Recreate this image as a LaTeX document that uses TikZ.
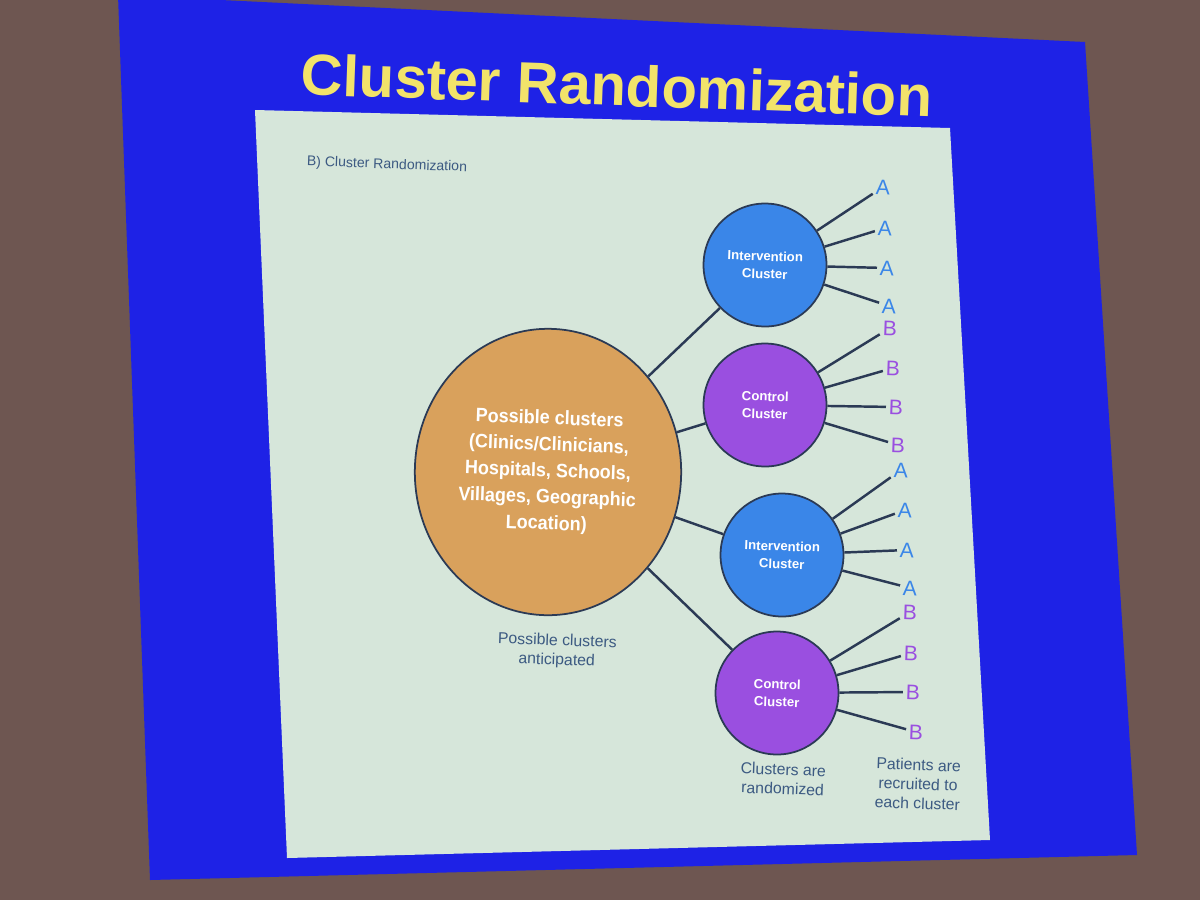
\documentclass[tikz,border=0pt]{standalone}
\usepackage{fontspec}
\setmainfont{Liberation Sans}
\usetikzlibrary{positioning}
\definecolor{RoomBrown}{HTML}{6E5651}
\definecolor{SlideBlue}{HTML}{1E22E6}
\definecolor{PanelGray}{HTML}{D6E6DA}
\definecolor{TitleYellow}{HTML}{F2E36A}
\definecolor{ClusterOrange}{HTML}{D9A15C}
\definecolor{InterBlue}{HTML}{3A86E8}
\definecolor{CtrlPurple}{HTML}{9A4FE0}
\definecolor{CaptionBlue}{HTML}{3C5A82}
\definecolor{LinkDark}{HTML}{2B3A55}

\tikzset{
  cluster/.style={circle, draw=LinkDark, line width=1pt, text=white, font=\bfseries\fontsize{7.5}{10}\selectfont, align=center, inner sep=0pt, minimum size=70pt, rotate=-2},
  inter/.style={cluster, fill=InterBlue},
  ctrl/.style={cluster, fill=CtrlPurple},
  patA/.style={font=\large, text=InterBlue, inner sep=1.5pt, rotate=-2},
  patB/.style={font=\large, text=CtrlPurple, inner sep=1.5pt, rotate=-2},
  link/.style={draw=LinkDark, line width=1.4pt},
  caption/.style={font=\small, text=CaptionBlue, align=center, rotate=-2}
}

\begin{document}
\begin{tikzpicture}[x=0.02cm, y=-0.02cm]
  \useasboundingbox (0,0) rectangle (1200,900);
  % room and slide
  \fill[RoomBrown] (0,0) rectangle (1200,900);
  \fill[SlideBlue] (118,-5) -- (1085,42) -- (1137,855) -- (150,880) -- cycle;
  \fill[PanelGray] (255,110) -- (950,128) -- (990,840) -- (287,858) -- cycle;

  % titles
  \node[font=\bfseries\fontsize{33}{36}\selectfont, text=TitleYellow, rotate=-2] (title) at (617,85) {Cluster Randomization};
  \node[font=\footnotesize, text=CaptionBlue, rotate=-2] (subtitle) at (387,165) {B) Cluster Randomization};

  % possible clusters
  \node[circle, draw=LinkDark, line width=1pt, fill=ClusterOrange, text=white, font=\bfseries\fontsize{11}{15}\selectfont, align=center, inner sep=0pt, minimum size=163pt, xscale=0.93, rotate=-2] (pool) at (548,472)
    {Possible clusters\\(Clinics/Clinicians,\\Hospitals, Schools,\\Villages, Geographic\\Location)};

  % randomized clusters
  \node[inter] (c1) at (765,265) {Intervention\\Cluster};
  \node[ctrl]  (c2) at (765,405) {Control\\Cluster};
  \node[inter] (c3) at (782,555) {Intervention\\Cluster};
  \node[ctrl]  (c4) at (777,693) {Control\\Cluster};

  \foreach \c in {c1,c2,c3,c4}
    \draw[link] (pool) -- (\c);

  % patients
  \node[patA] (a1) at (883,187) {A};
  \node[patA] (a2) at (885,228) {A};
  \node[patA] (a3) at (887,268) {A};
  \node[patA] (a4) at (889,306) {A};
  \node[patB] (b1) at (890,328) {B};
  \node[patB] (b2) at (893,368) {B};
  \node[patB] (b3) at (896,407) {B};
  \node[patB] (b4) at (898,445) {B};
  \node[patA] (a5) at (901,470) {A};
  \node[patA] (a6) at (905,510) {A};
  \node[patA] (a7) at (907,550) {A};
  \node[patA] (a8) at (910,588) {A};
  \node[patB] (b5) at (910,612) {B};
  \node[patB] (b6) at (911,653) {B};
  \node[patB] (b7) at (913,692) {B};
  \node[patB] (b8) at (916,732) {B};

  \foreach \p in {a1,a2,a3,a4}
    \draw[link] (c1) -- (\p);
  \foreach \p in {b1,b2,b3,b4}
    \draw[link] (c2) -- (\p);
  \foreach \p in {a5,a6,a7,a8}
    \draw[link] (c3) -- (\p);
  \foreach \p in {b5,b6,b7,b8}
    \draw[link] (c4) -- (\p);

  % captions
  \node[caption] (capPool) at (557,651) {Possible clusters\\anticipated};
  \node[caption] (capRand) at (783,779) {Clusters are\\randomized};
  \node[caption] (capPat) at (918,784) {Patients are\\recruited to\\each cluster};
\end{tikzpicture}
\end{document}
